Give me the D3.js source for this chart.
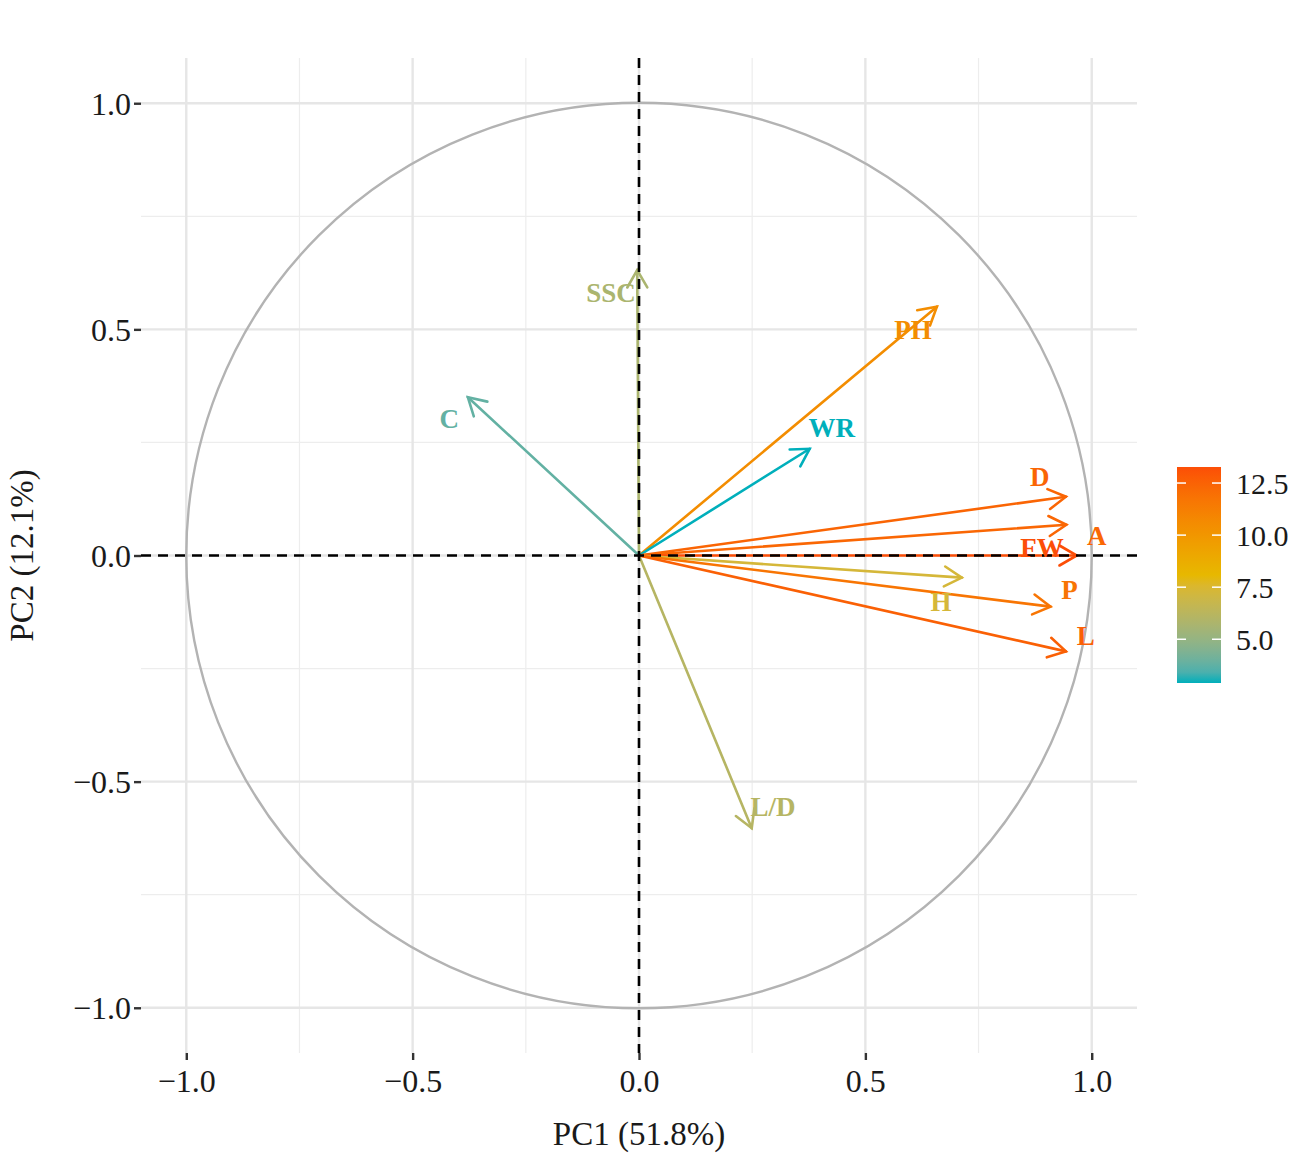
<!DOCTYPE html>
<html>
<head>
<meta charset="utf-8">
<script src="https://cdn.jsdelivr.net/npm/d3@7"></script>
<style>
  body { margin: 0; background: #fff; }
  text { font-family: "Liberation Serif", "Times New Roman", serif; }
</style>
</head>
<body>
<script>
// variables and their coordinates on PC1 / PC2
var varNames = ["SSC", "PH", "WR", "C", "D", "A", "FW", "H", "P", "L", "L/D"];
var pc1 = [-0.004, 0.658, 0.377, -0.378, 0.943, 0.944, 0.967, 0.713, 0.909, 0.943, 0.249];
var pc2 = [0.631, 0.550, 0.236, 0.350, 0.130, 0.068, 0.000, -0.049, -0.113, -0.212, -0.603];
var contrib = [5.7, 10.5, 2.9, 3.8, 12.4, 12.3, 13.27, 7.3, 11.7, 12.6, 6.1];
// repelled label positions
var labX = [-0.062, 0.605, 0.426, -0.419, 0.885, 1.011, 0.890, 0.667, 0.951, 0.987, 0.296];
var labY = [0.581, 0.499, 0.283, 0.302, 0.174, 0.044, 0.018, -0.102, -0.075, -0.177, -0.556];

var ticks = [-1.0, -0.5, 0.0, 0.5, 1.0];
var minorTicks = [-0.75, -0.25, 0.25, 0.75];
var legendTicks = [5.0, 7.5, 10.0, 12.5];
var gradCols = ["#00AFBB", "#E7B800", "#FC4E07"];

var width = 1302, height = 1155;
var panel = {left: 141, right: 1137, top: 58, bottom: 1053};

var svg = d3.select("body").append("svg")
    .attr("width", width)
    .attr("height", height);

var x = d3.scaleLinear().domain([-1.1, 1.1]).range([panel.left, panel.right]);
var y = d3.scaleLinear().domain([-1.1, 1.1]).range([panel.bottom, panel.top]);

var cMin = d3.min(contrib), cMax = d3.max(contrib);
var color = d3.scaleLinear()
    .domain([cMin, (cMin + cMax) / 2, cMax])
    .range(gradCols)
    .interpolate(d3.interpolateLab);

// grid
var grid = svg.append("g");
grid.selectAll(".minx").data(minorTicks).enter().append("line")
    .attr("x1", function(d) { return x(d); }).attr("x2", function(d) { return x(d); })
    .attr("y1", panel.top).attr("y2", panel.bottom)
    .attr("stroke", "#ededed").attr("stroke-width", 1.2);
grid.selectAll(".miny").data(minorTicks).enter().append("line")
    .attr("y1", function(d) { return y(d); }).attr("y2", function(d) { return y(d); })
    .attr("x1", panel.left).attr("x2", panel.right)
    .attr("stroke", "#ededed").attr("stroke-width", 1.2);
grid.selectAll(".majx").data(ticks).enter().append("line")
    .attr("x1", function(d) { return x(d); }).attr("x2", function(d) { return x(d); })
    .attr("y1", panel.top).attr("y2", panel.bottom)
    .attr("stroke", "#e6e6e6").attr("stroke-width", 2.4);
grid.selectAll(".majy").data(ticks).enter().append("line")
    .attr("y1", function(d) { return y(d); }).attr("y2", function(d) { return y(d); })
    .attr("x1", panel.left).attr("x2", panel.right)
    .attr("stroke", "#e6e6e6").attr("stroke-width", 2.4);

// axes
var fmt = function(d) { return d3.format(".1f")(d).replace("-", "\u2212"); };
var xAxis = svg.append("g")
    .attr("transform", "translate(0," + panel.bottom + ")")
    .call(d3.axisBottom(x).tickValues(ticks).tickFormat(fmt).tickSize(7).tickPadding(9));
var yAxis = svg.append("g")
    .attr("transform", "translate(" + panel.left + ",0)")
    .call(d3.axisLeft(y).tickValues(ticks).tickFormat(fmt).tickSize(7).tickPadding(3));
[xAxis, yAxis].forEach(function(a) {
  a.select(".domain").remove();
  a.selectAll(".tick line").attr("stroke", "#333").attr("stroke-width", 2.4);
  a.selectAll(".tick text")
      .attr("fill", "#1a1a1a")
      .style("font-size", "32px")
      .style("font-family", "'Liberation Serif', serif");
});
yAxis.selectAll(".tick text").attr("dy", "0.35em");

// correlation circle
svg.append("circle")
    .attr("cx", x(0)).attr("cy", y(0))
    .attr("r", x(1) - x(0))
    .attr("fill", "none")
    .attr("stroke", "#b3b3b3")
    .attr("stroke-width", 2.4);

// arrows
var idx = d3.range(varNames.length);
var arrows = svg.append("g").selectAll("g").data(idx).enter().append("g")
    .attr("stroke", function(i) { return color(contrib[i]); })
    .attr("stroke-width", 2.6)
    .attr("fill", "none")
    .attr("stroke-linecap", "round");

arrows.append("line")
    .attr("x1", x(0)).attr("y1", y(0))
    .attr("x2", function(i) { return x(pc1[i]); })
    .attr("y2", function(i) { return y(pc2[i]); });

var headLen = 20, headAng = Math.PI / 6;
arrows.append("path")
    .attr("d", function(i) {
      var tx = x(pc1[i]), ty = y(pc2[i]);
      var a = Math.atan2(ty - y(0), tx - x(0));
      var p1 = [tx - headLen * Math.cos(a - headAng), ty - headLen * Math.sin(a - headAng)];
      var p2 = [tx - headLen * Math.cos(a + headAng), ty - headLen * Math.sin(a + headAng)];
      return "M" + p1 + "L" + tx + "," + ty + "L" + p2;
    });

// reference lines
svg.append("line")
    .attr("x1", panel.left).attr("x2", panel.right)
    .attr("y1", y(0)).attr("y2", y(0))
    .attr("stroke", "#000").attr("stroke-width", 2.6)
    .attr("stroke-dasharray", "10,7");
svg.append("line")
    .attr("y1", panel.top).attr("y2", panel.bottom)
    .attr("x1", x(0)).attr("x2", x(0))
    .attr("stroke", "#000").attr("stroke-width", 2.6)
    .attr("stroke-dasharray", "10,7");

// labels
svg.append("g").selectAll("text").data(idx).enter().append("text")
    .attr("x", function(i) { return x(labX[i]); })
    .attr("y", function(i) { return y(labY[i]); })
    .attr("dy", "0.35em")
    .attr("text-anchor", "middle")
    .attr("fill", function(i) { return color(contrib[i]); })
    .style("font-size", "27px")
    .style("font-weight", "bold")
    .text(function(i) { return varNames[i]; });

// axis titles
svg.append("text")
    .attr("x", x(0)).attr("y", 1145)
    .attr("text-anchor", "middle")
    .attr("fill", "#1a1a1a")
    .style("font-size", "33px")
    .text("PC1 (51.8%)");
svg.append("text")
    .attr("transform", "translate(33," + y(0) + ") rotate(-90)")
    .attr("text-anchor", "middle")
    .attr("fill", "#1a1a1a")
    .style("font-size", "33px")
    .text("PC2 (12.1%)");

// colour bar legend
var bar = {x: 1177, w: 44, top: 467, bottom: 683};
var ly = d3.scaleLinear().domain([cMin, cMax]).range([bar.bottom, bar.top]);
var defs = svg.append("defs");
var grad = defs.append("linearGradient")
    .attr("id", "cbar")
    .attr("x1", "0").attr("y1", "1").attr("x2", "0").attr("y2", "0");
grad.selectAll("stop").data(d3.range(0, 1.0001, 0.05)).enter().append("stop")
    .attr("offset", function(t) { return t; })
    .attr("stop-color", function(t) { return color(cMin + t * (cMax - cMin)); });

svg.append("rect")
    .attr("x", bar.x).attr("y", bar.top)
    .attr("width", bar.w).attr("height", bar.bottom - bar.top)
    .attr("fill", "url(#cbar)");

var lt = svg.append("g").selectAll("g").data(legendTicks).enter().append("g");
lt.append("line")
    .attr("x1", bar.x).attr("x2", bar.x + 9)
    .attr("y1", function(d) { return ly(d); }).attr("y2", function(d) { return ly(d); })
    .attr("stroke", "#fff").attr("stroke-width", 1.5);
lt.append("line")
    .attr("x1", bar.x + bar.w - 9).attr("x2", bar.x + bar.w)
    .attr("y1", function(d) { return ly(d); }).attr("y2", function(d) { return ly(d); })
    .attr("stroke", "#fff").attr("stroke-width", 1.5);
lt.append("text")
    .attr("x", bar.x + bar.w + 15)
    .attr("y", function(d) { return ly(d); })
    .attr("dy", "0.35em")
    .attr("fill", "#1a1a1a")
    .style("font-size", "30px")
    .text(function(d) { return d3.format(".1f")(d); });
</script>
</body>
</html>
